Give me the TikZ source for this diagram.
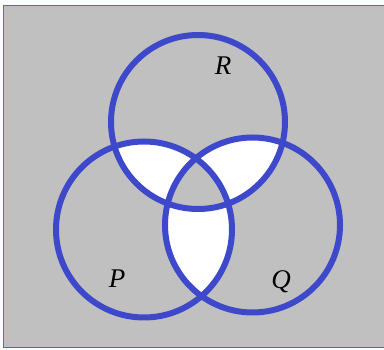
\documentclass[tikz,border=0pt]{standalone}
\usepackage{fontspec}
\setmainfont{Liberation Serif}
\definecolor{bggray}{RGB}{192,192,192}
\definecolor{ringblue}{RGB}{62,72,202}
\definecolor{edgeblue}{RGB}{80,110,175}
\begin{document}
\begin{tikzpicture}[x=1pt,y=-1pt,
  ring/.style={draw=ringblue,line width=6pt},
  lbl/.style={font=\fontsize{27}{27}\selectfont\itshape,inner sep=0pt}]
\useasboundingbox (0,0) rectangle (384,350);
\fill[white] (0,0) rectangle (384,350);
\path[fill=bggray,draw=edgeblue,line width=1pt] (4,6) rectangle (390,347.6);
\def\cR{(198,122) circle[radius=87]}
\def\cP{(144,229.5) circle[radius=88]}
\def\cQ{(252.5,225) circle[radius=87.5]}
\begin{scope}\clip \cR; \fill[white] \cP; \end{scope}
\begin{scope}\clip \cR; \fill[white] \cQ; \end{scope}
\begin{scope}\clip \cP; \fill[white] \cQ; \end{scope}
\begin{scope}\clip \cR; \clip \cP; \fill[bggray] \cQ; \end{scope}
\draw[ring] \cR;
\draw[ring] \cP;
\draw[ring] \cQ;
\node[lbl] (r) at (223,66) {R};
\node[lbl] (p) at (117,279) {P};
\node[lbl] (q) at (281,282) {Q};
\end{tikzpicture}
\end{document}
